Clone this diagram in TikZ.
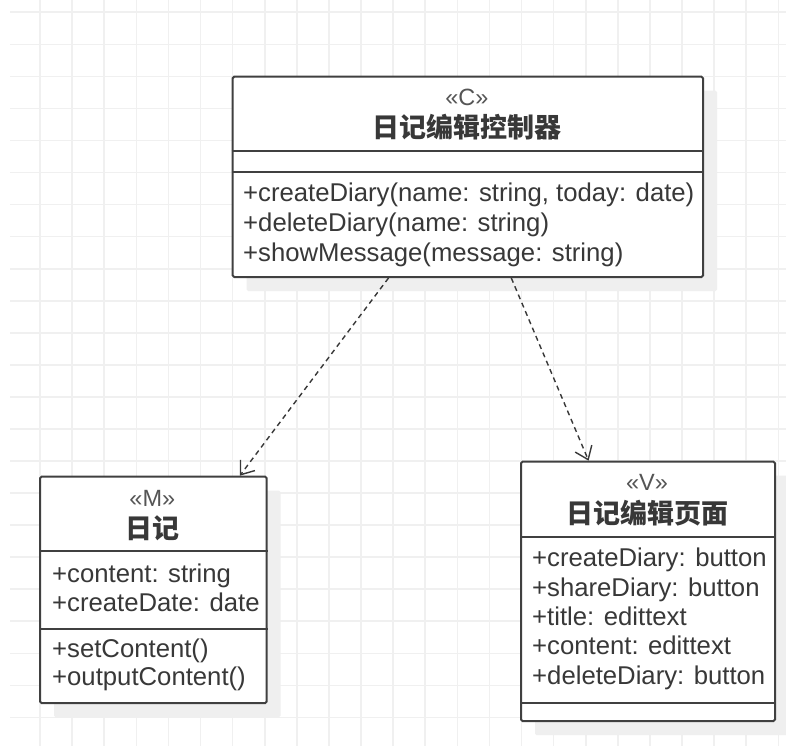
\documentclass[tikz,border=0pt]{standalone}
\usepackage{fontspec}
\setmainfont{Liberation Sans}
\newfontfamily\cjk{Noto Sans CJK SC}
\usetikzlibrary{arrows.meta,calc,shadows}
\definecolor{gridc}{HTML}{F0F0F0}
\definecolor{shadowc}{HTML}{EFEFEF}
\definecolor{linec}{HTML}{404040}
\definecolor{textc}{HTML}{383838}
\definecolor{stereoc}{HTML}{555555}
\tikzset{
  gridline/.style={draw=gridc, line width=1.6pt},
  classbox/.style={draw=linec, line width=2pt, fill=white, rounded corners=1.5pt, inner sep=0pt,
    anchor=north west, drop shadow={shadow xshift=14pt, shadow yshift=-14pt, fill=shadowc, opacity=1}},
  divider/.style={draw=linec, line width=2pt},
  txt/.style={inner sep=0pt, anchor=base west, text=textc, font=\fontsize{25.7}{30}\selectfont},
  stereo/.style={inner sep=0pt, anchor=base, text=stereoc, font=\fontsize{23.5}{27}\selectfont},
  title/.style={inner sep=0pt, anchor=center, text=textc, font=\cjk\bfseries\fontsize{27}{30}\selectfont},
  dep/.style={draw=textc, line width=1.4pt, dash pattern=on 5pt off 4pt,
    -{Straight Barb[length=12pt,width=18pt,line width=1.4pt]}}
}
\begin{document}
\begin{tikzpicture}[x=1pt,y=-1pt]
\useasboundingbox (0,0) rectangle (786,746);
\fill[white] (0,0) rectangle (786,746);
% grid
\foreach \k in {0,...,23} \draw[gridline] ({40+32.1*\k},0) -- ({40+32.1*\k},746);
\foreach \k in {0,...,22} \draw[gridline] (10,{12.3+32.05*\k}) -- (786,{12.3+32.05*\k});
% controller class
\node[classbox, minimum width=470.3pt, minimum height=200.3pt] (C) at (231.7,75.7) {};
\draw[divider] ($(C.north west)+(0,75.3)$) -- ($(C.north east)+(0,75.3)$);
\draw[divider] ($(C.north west)+(0,96.3)$) -- ($(C.north east)+(0,96.3)$);
\node[stereo] (cs) at (466.85,105.5) {«C»};
\node[title] (ct) at (466.85,127.5) {日记编辑控制器};
\node[txt] (c1) at (243,201.7) {+createDiary(name: string, today: date)};
\node[txt] (c2) at (243,231.2) {+deleteDiary(name: string)};
\node[txt] (c3) at (243,261) {+showMessage(message: string)};
% model class
\node[classbox, minimum width=226.7pt, minimum height=226.3pt] (M) at (39,475.7) {};
\draw[divider] ($(M.north west)+(0,75.3)$) -- ($(M.north east)+(0,75.3)$);
\draw[divider] ($(M.north west)+(0,153.3)$) -- ($(M.north east)+(0,153.3)$);
\node[stereo] (ms) at (152.35,506.7) {«M»};
\node[title] (mt) at (152.35,528.5) {日记};
\node[txt] (m1) at (52,582) {+content: string};
\node[txt] (m2) at (52,611) {+createDate: date};
\node[txt] (m3) at (52,657) {+setContent()};
\node[txt] (m4) at (52,685.5) {+outputContent()};
% view class
\node[classbox, minimum width=254pt, minimum height=259.3pt] (V) at (520,460.7) {};
\draw[divider] ($(V.north west)+(0,76.3)$) -- ($(V.north east)+(0,76.3)$);
\draw[divider] ($(V.north west)+(0,242.3)$) -- ($(V.north east)+(0,242.3)$);
\node[stereo] (vs) at (647,490) {«V»};
\node[title] (vt) at (647,513.5) {日记编辑页面};
\node[txt] (v1) at (532,566.7) {+createDiary: button};
\node[txt] (v2) at (532,596) {+shareDiary: button};
\node[txt] (v3) at (532,625.3) {+title: edittext};
\node[txt] (v4) at (532,654.7) {+content: edittext};
\node[txt] (v5) at (532,684) {+deleteDiary: button};
% dependencies
\draw[dep] ($(C.south west)!0.332!(C.south east)$) -- ($(M.north west)!0.878!(M.north east)$);
\draw[dep] ($(C.south west)!0.592!(C.south east)$) -- ($(V.north west)!0.268!(V.north east)$);
\end{tikzpicture}
\end{document}
